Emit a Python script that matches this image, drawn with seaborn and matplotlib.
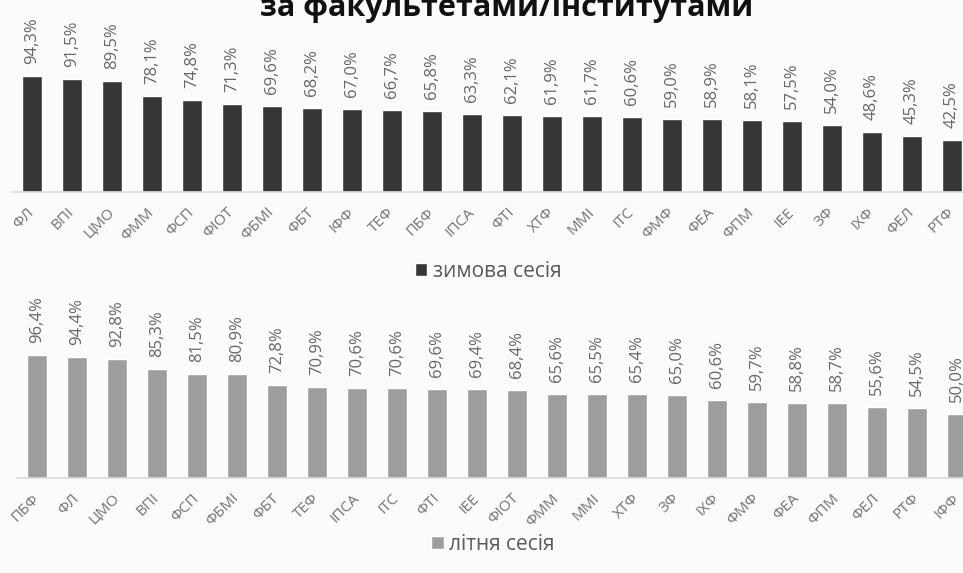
import pandas as pd
import matplotlib
matplotlib.use('Agg')
import matplotlib.pyplot as plt
import seaborn as sns

# winter session (зимова сесія)
winter_faculties = ['ФЛ', 'ВПІ', 'ЦМО', 'ФММ', 'ФСП', 'ФІОТ', 'ФБМІ', 'ФБТ', 'ІФФ', 'ТЕФ',
                    'ПБФ', 'ІПСА', 'ФТІ', 'ХТФ', 'ММІ', 'ІТС', 'ФМФ', 'ФЕА', 'ФПМ', 'ІЕЕ',
                    'ЗФ', 'ІХФ', 'ФЕЛ', 'РТФ']
winter_values = [94.3, 91.5, 89.5, 78.1, 74.8, 71.3, 69.6, 68.2, 67.0, 66.7,
                 65.8, 63.3, 62.1, 61.9, 61.7, 60.6, 59.0, 58.9, 58.1, 57.5,
                 54.0, 48.6, 45.3, 42.5]

# summer session (літня сесія)
summer_faculties = ['ПБФ', 'ФЛ', 'ЦМО', 'ВПІ', 'ФСП', 'ФБМІ', 'ФБТ', 'ТЕФ', 'ІПСА', 'ІТС',
                    'ФТІ', 'ІЕЕ', 'ФІОТ', 'ФММ', 'ММІ', 'ХТФ', 'ЗФ', 'ІХФ', 'ФМФ', 'ФЕА',
                    'ФПМ', 'ФЕЛ', 'РТФ', 'ІФФ']
summer_values = [96.4, 94.4, 92.8, 85.3, 81.5, 80.9, 72.8, 70.9, 70.6, 70.6,
                 69.6, 69.4, 68.4, 65.6, 65.5, 65.4, 65.0, 60.6, 59.7, 58.8,
                 58.7, 55.6, 54.5, 50.0]

title = 'за факультетами/інститутами'

sns.set_style('white')
plt.rcParams['font.family'] = ['Open Sans', 'DejaVu Sans']

W, H = 963, 573
fig = plt.figure(figsize=(W / 100, H / 100), dpi=100)
fig.patch.set_facecolor('#fbfbfb')


def px_axes(left, base, right, height):
    # pixel box -> figure fraction (base = y of baseline from top)
    return fig.add_axes([left / W, (H - base) / H, (right - left) / W, height / H])


def draw_panel(ax, faculties, values, color, label, legend_y):
    df = pd.DataFrame({'faculty': faculties, 'value': values})
    sns.barplot(data=df, x='faculty', y='value', color=color, width=0.5,
                saturation=1, ax=ax, label=label)
    ax.set_xlim(-0.5, 23.3)
    ax.set_ylim(0, 100)
    ax.set_facecolor('none')
    for s in ['top', 'right', 'left']:
        ax.spines[s].set_visible(False)
    ax.spines['bottom'].set_color('#dcdcdc')
    ax.spines['bottom'].set_linewidth(1.2)
    ax.set_yticks([])
    ax.set_xlabel('')
    ax.set_ylabel('')
    ax.tick_params(axis='x', length=0, pad=13)
    ax.set_xticks(range(len(faculties)))
    ax.set_xticklabels(faculties, rotation=45, ha='right', va='center',
                       rotation_mode='anchor', fontsize=11, color='#737373')
    for i, v in enumerate(values):
        ax.annotate(f'{v:.1f}%'.replace('.', ','), (i, v), xytext=(0, 12),
                    textcoords='offset pixels', rotation=90,
                    ha='center', va='bottom', fontsize=12, color='#666666',
                    annotation_clip=False)
    ax.legend(loc='center', bbox_to_anchor=(0.5, legend_y), frameon=False,
              fontsize=15, handlelength=0.6, handleheight=0.6,
              handletextpad=0.25, labelcolor='#5a5a5a')


ax1 = px_axes(12, 192, 964, 123.5)
draw_panel(ax1, winter_faculties, winter_values, '#363636', 'зимова сесія', -0.64)

ax2 = px_axes(17, 478, 969, 128)
draw_panel(ax2, summer_faculties, summer_values, '#9d9d9d', 'літня сесія', -0.52)

fig.text(0.526, 1 - 16 / H, title, ha='center', va='baseline',
         fontsize=22, fontweight='bold', color='#111111')

fig.savefig('out.png', dpi=100, facecolor=fig.get_facecolor())
